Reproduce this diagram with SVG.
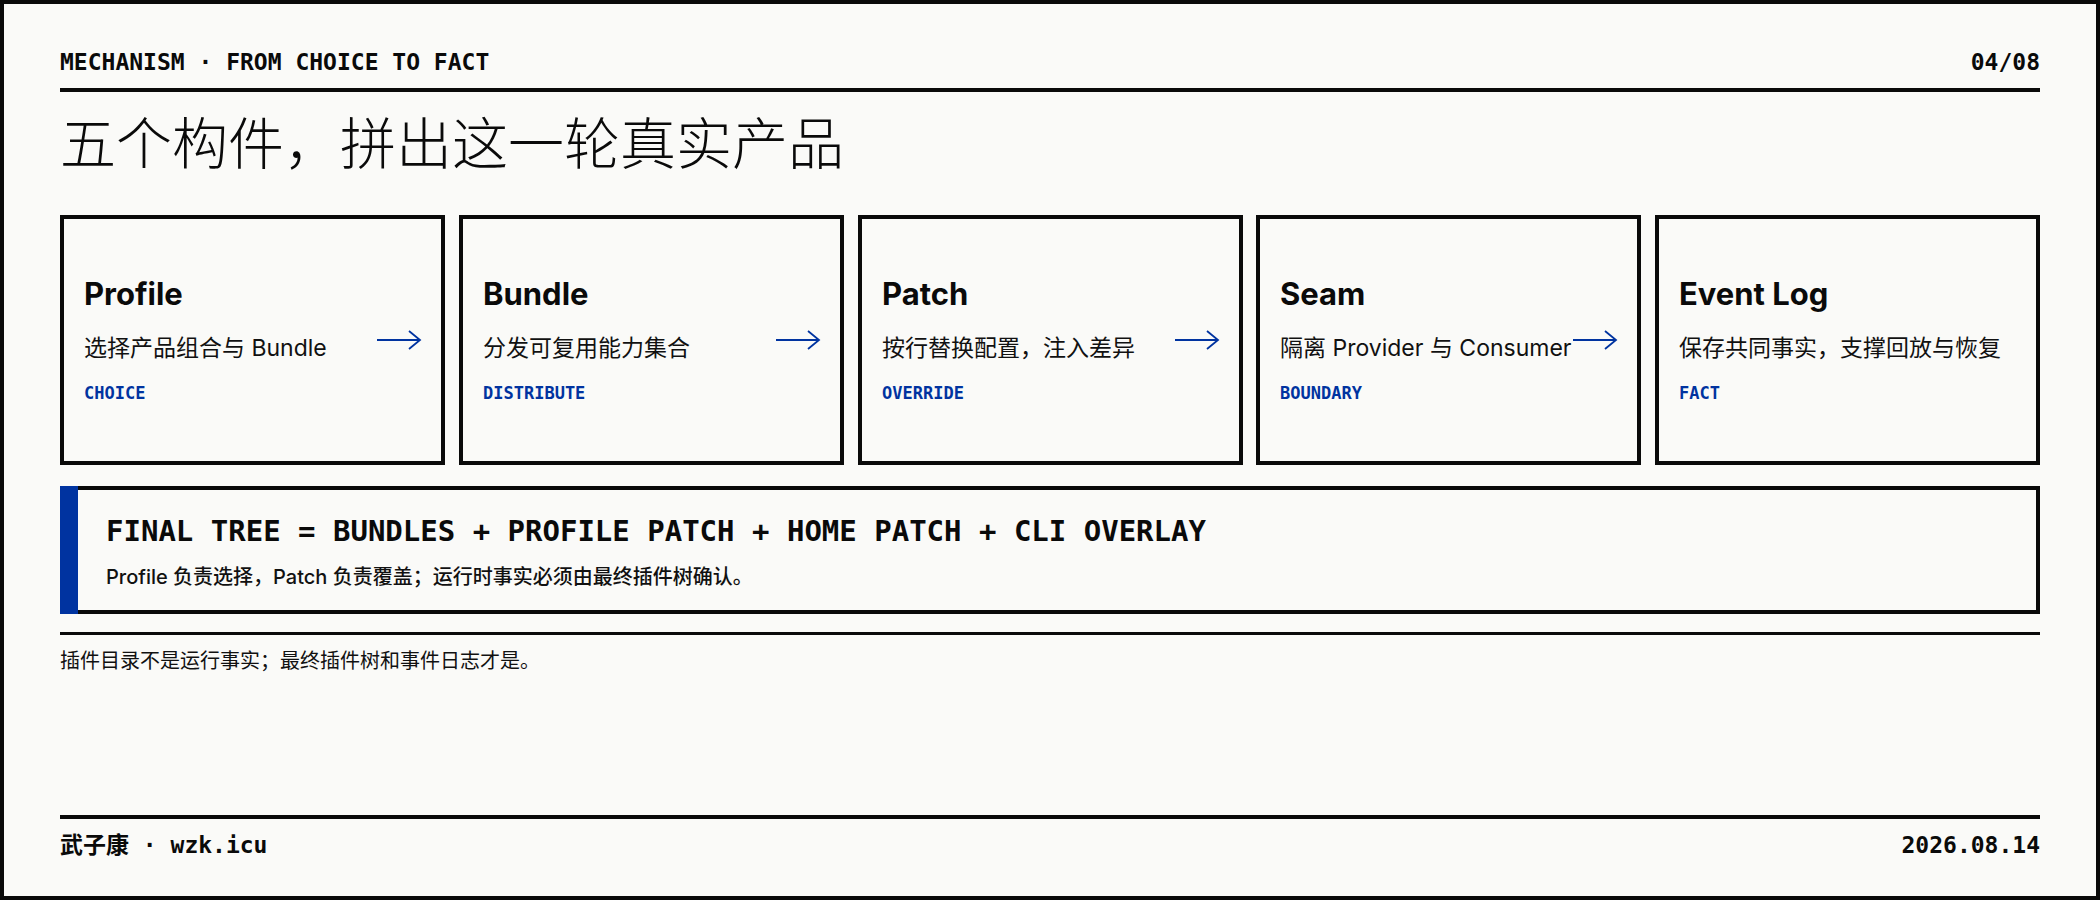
<svg xmlns="http://www.w3.org/2000/svg" width="2100" height="900" viewBox="0 0 2100 900">
<defs>
<style>
.mono{font-family:"DejaVu Sans Mono","Liberation Mono",monospace;font-weight:700}
.sans{font-family:Inter,"Noto Sans CJK SC",sans-serif}
.card{fill:none;stroke:#0a0a0a;stroke-width:4}
.ct{font-family:Inter,"Noto Sans CJK SC",sans-serif;font-weight:700;font-size:31px;fill:#0a0a0a}
.cs{font-family:Inter,"Noto Sans CJK SC",sans-serif;font-size:23px;fill:#111}
.tag{font-family:"DejaVu Sans Mono","Liberation Mono",monospace;font-weight:700;font-size:17px;fill:#0033a0}
.arr{fill:none;stroke:#0033a0;stroke-width:1.8}
</style>
</defs>
<rect x="0" y="0" width="2100" height="900" fill="#fafaf8"/>
<rect x="2" y="2" width="2096" height="896" fill="none" stroke="#0a0a0a" stroke-width="4"/>
<text x="60" y="70" class="mono" font-size="23" fill="#0a0a0a">MECHANISM · FROM CHOICE TO FACT</text>
<text x="2040" y="70" class="mono" font-size="23" fill="#0a0a0a" text-anchor="end">04/08</text>
<rect x="60" y="88" width="1980" height="4" fill="#0a0a0a"/>
<text x="60" y="164" font-family="Inter,'Noto Sans CJK SC',sans-serif" font-weight="300" font-size="56" fill="#0a0a0a">五个构件，拼出这一轮真实产品</text>
<g id="node-profile"><rect class="card" x="62" y="217" width="381" height="246"/><text class="ct" x="84" y="305">Profile</text><text class="cs" x="84" y="356">选择产品组合与 Bundle</text><text class="tag" x="84" y="399">CHOICE</text></g>
<g id="node-bundle"><rect class="card" x="461" y="217" width="381" height="246"/><text class="ct" x="483" y="305">Bundle</text><text class="cs" x="483" y="356">分发可复用能力集合</text><text class="tag" x="483" y="399">DISTRIBUTE</text></g>
<g id="node-patch"><rect class="card" x="860" y="217" width="381" height="246"/><text class="ct" x="882" y="305">Patch</text><text class="cs" x="882" y="356">按行替换配置，注入差异</text><text class="tag" x="882" y="399">OVERRIDE</text></g>
<g id="node-seam"><rect class="card" x="1258" y="217" width="381" height="246"/><text class="ct" x="1280" y="305">Seam</text><text class="cs" x="1280" y="356">隔离 Provider 与 Consumer</text><text class="tag" x="1280" y="399">BOUNDARY</text></g>
<g id="node-eventlog"><rect class="card" x="1657" y="217" width="381" height="246"/><text class="ct" x="1679" y="305">Event Log</text><text class="cs" x="1679" y="356">保存共同事实，支撑回放与恢复</text><text class="tag" x="1679" y="399">FACT</text></g>
<g id="connectors">
<path class="arr" d="M377 340H420M409 331L420 340L409 349"/>
<path class="arr" d="M776 340H819M808 331L819 340L808 349"/>
<path class="arr" d="M1175 340H1218M1207 331L1218 340L1207 349"/>
<path class="arr" d="M1573 340H1616M1605 331L1616 340L1605 349"/>
</g>
<g id="node-formula">
<rect x="62" y="488" width="1976" height="124" fill="none" stroke="#0a0a0a" stroke-width="4"/>
<rect x="60" y="486" width="18" height="128" fill="#0033a0"/>
<text x="106" y="541" class="mono" font-size="29" fill="#0a0a0a">FINAL TREE = BUNDLES + PROFILE PATCH + HOME PATCH + CLI OVERLAY</text>
<text x="106" y="584" class="sans" font-size="20" font-weight="500" fill="#111">Profile 负责选择，Patch 负责覆盖；运行时事实必须由最终插件树确认。</text>
</g>
<rect x="60" y="632" width="1980" height="3" fill="#0a0a0a"/>
<text x="60" y="668" class="sans" font-size="20" fill="#111">插件目录不是运行事实；最终插件树和事件日志才是。</text>
<rect x="60" y="815" width="1980" height="4" fill="#0a0a0a"/>
<text x="60" y="853" font-family="'DejaVu Sans Mono','Noto Sans CJK SC',monospace" font-weight="700" font-size="23" fill="#0a0a0a">武子康 · wzk.icu</text>
<text x="2040" y="853" class="mono" font-size="23" fill="#0a0a0a" text-anchor="end">2026.08.14</text>
</svg>
